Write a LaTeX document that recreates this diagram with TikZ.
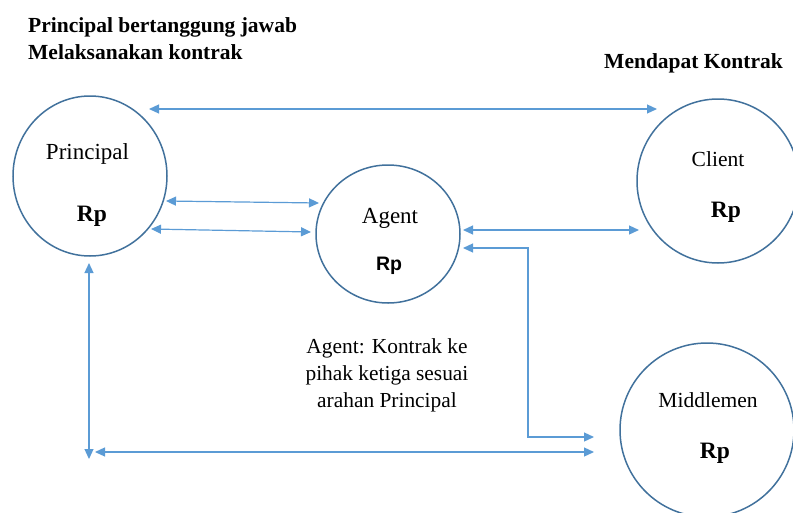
\documentclass[tikz,border=0pt]{standalone}
\usepackage{fontspec}
\setmainfont{Liberation Serif}
\newfontfamily\arialfont{Liberation Sans}
\usetikzlibrary{arrows.meta,shapes.geometric}
\definecolor{ringblue}{HTML}{41719C}
\definecolor{arrowblue}{HTML}{5B9BD5}
\begin{document}
\begin{tikzpicture}[x=1pt,y=-1pt,
  ring/.style={draw=ringblue,line width=1.5pt,ellipse,inner sep=0pt},
  conn/.style={draw=arrowblue,line width=1.2pt,{Triangle[length=10pt,width=9pt]}-{Triangle[length=10pt,width=9pt]}},
  lbl/.style={anchor=base,inner sep=0pt,font=\fontsize{23}{27}\selectfont},
  sml/.style={anchor=base,inner sep=0pt,font=\fontsize{21.5}{27}\selectfont},
  rp/.style={anchor=base,inner sep=0pt,font=\fontsize{23.5}{27}\selectfont\bfseries},
  ttl/.style={anchor=base west,inner sep=0pt,font=\fontsize{21.5}{27}\selectfont\bfseries}]
\useasboundingbox (0,0) rectangle (793,512);
\clip (0,0) rectangle (793,512);
% circles
\node[ring,minimum width=154pt,minimum height=160pt] (P) at (90,176) {};
\node[ring,minimum width=144pt,minimum height=138pt] (A) at (388,234) {};
\node[ring,minimum width=162pt,minimum height=164pt] (C) at (718,181) {};
\node[ring,minimum width=174pt,minimum height=174pt] (M) at (707,430) {};
% texts
\node[ttl] (t1) at (28,32) {Principal bertanggung jawab};
\node[ttl] (t2) at (28,59) {Melaksanakan kontrak};
\node[ttl] (t3) at (604,68) {Mendapat Kontrak};
\node[lbl] (Pl) at (87.5,159) {Principal};
\node[rp] (Pr) at (92,221) {Rp};
\node[lbl] (Al) at (390,223) {Agent};
\node[anchor=base,inner sep=0pt,font=\fontsize{19.5}{24}\selectfont\arialfont\bfseries] (Ar) at (389,270) {Rp};
\node[sml] (Cl) at (718,166) {Client};
\node[rp] (Cr) at (726,217) {Rp};
\node[sml] (Ml) at (708,407) {Middlemen};
\node[rp] (Mr) at (715,458) {Rp};
\node[anchor=base,inner sep=0pt,align=center,font=\fontsize{21.4}{27}\selectfont] (note) at (387,407) {Agent: Kontrak ke\\pihak ketiga sesuai\\arahan Principal};
% connector end points
\coordinate (pc1) at (149,109);
\coordinate (pc2) at (657,109);
\coordinate (pa1) at (166,201);
\coordinate (pa2) at (319,203);
\coordinate (pb1) at (151,229);
\coordinate (pb2) at (311,232);
\coordinate (ac1) at (463,230);
\coordinate (ac2) at (639,230);
\coordinate (am1) at (463,248);
\coordinate (amk1) at (528,248);
\coordinate (amk2) at (528,437);
\coordinate (am2) at (594,437);
\coordinate (pv1) at (89,263);
\coordinate (pv2) at (89,459);
\coordinate (pm1) at (95,452);
\coordinate (pm2) at (594,452);
% connectors
\draw[conn] (pc1) -- (pc2);
\draw[conn] (pa1) -- (pa2);
\draw[conn] (pb1) -- (pb2);
\draw[conn] (ac1) -- (ac2);
\draw[conn] (am1) -- (amk1) -- (amk2) -- (am2);
\draw[conn] (pv1) -- (pv2);
\draw[conn] (pm1) -- (pm2);
\end{tikzpicture}
\end{document}
